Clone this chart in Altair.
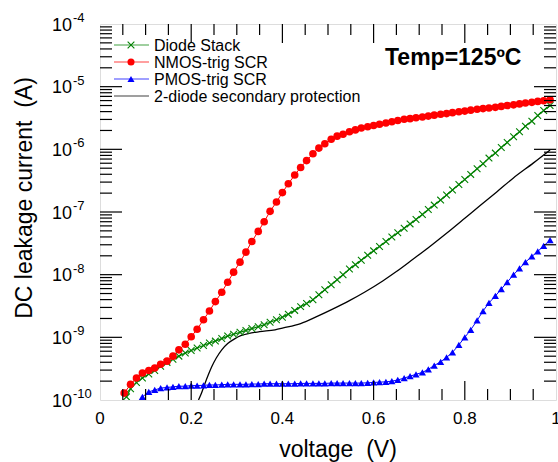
import altair as alt
import pandas as pd

# ---------------- data ----------------
# voltage sample points (V) shared by the marker series
voltage_steps = [
    0.053, 0.067, 0.080, 0.093, 0.107, 0.120, 0.133, 0.147, 0.160, 0.173,
    0.187, 0.200, 0.213, 0.227, 0.240, 0.253, 0.267, 0.280, 0.293, 0.307,
    0.320, 0.333, 0.347, 0.360, 0.373, 0.387, 0.400, 0.413, 0.427, 0.440,
    0.453, 0.467, 0.480, 0.493, 0.507, 0.520, 0.533, 0.547, 0.560, 0.573,
    0.587, 0.600, 0.613, 0.627, 0.640, 0.653, 0.667, 0.680, 0.693, 0.707,
    0.720, 0.733, 0.747, 0.760, 0.773, 0.787, 0.800, 0.813, 0.827, 0.840,
    0.853, 0.867, 0.880, 0.893, 0.907, 0.920, 0.933, 0.947, 0.960, 0.973,
    0.987,
]

# log10 of current (A)
nmos_voltage = voltage_steps
nmos_log = [
    -9.89, -9.75, -9.65, -9.57, -9.53, -9.49, -9.43, -9.38, -9.30, -9.20,
    -9.11, -8.99, -8.87, -8.72, -8.58, -8.43, -8.28, -8.12, -7.96, -7.80,
    -7.64, -7.47, -7.31, -7.155, -6.99, -6.84, -6.69, -6.55, -6.41, -6.29,
    -6.18, -6.07, -5.98, -5.91, -5.84, -5.79, -5.76, -5.72, -5.69, -5.66,
    -5.64, -5.62, -5.60, -5.58, -5.56, -5.54, -5.52, -5.51, -5.495, -5.485,
    -5.47, -5.455, -5.44, -5.43, -5.415, -5.40, -5.39, -5.375, -5.36, -5.35,
    -5.34, -5.33, -5.315, -5.30, -5.29, -5.275, -5.26, -5.25, -5.235, -5.225,
    -5.21,
]

diode_voltage = [0.058] + voltage_steps[1:]
diode_log = [
    -9.95, -9.82, -9.72, -9.65, -9.585, -9.53, -9.46, -9.40, -9.35, -9.30,
    -9.25, -9.21, -9.17, -9.13, -9.09, -9.06, -9.02, -8.98, -8.95, -8.92,
    -8.89, -8.86, -8.83, -8.80, -8.76, -8.72, -8.68, -8.63, -8.57, -8.51,
    -8.46, -8.40, -8.32, -8.24, -8.16, -8.08, -8.00, -7.91, -7.84, -7.77,
    -7.69, -7.62, -7.55, -7.47, -7.40, -7.33, -7.26, -7.19, -7.12, -7.04,
    -6.96, -6.89, -6.81, -6.73, -6.65, -6.56, -6.48, -6.40, -6.31, -6.23,
    -6.14, -6.06, -5.97, -5.89, -5.80, -5.72, -5.63, -5.55, -5.46, -5.38,
    -5.30,
]

pmos_voltage = voltage_steps[3:]
pmos_log = [
    -9.95, -9.87, -9.84, -9.81, -9.80, -9.79, -9.78, -9.78, -9.77, -9.77,
    -9.765, -9.76, -9.76, -9.755, -9.75, -9.75, -9.75, -9.75, -9.745, -9.745,
    -9.74, -9.74, -9.74, -9.74, -9.74, -9.74, -9.735, -9.735, -9.735, -9.735,
    -9.735, -9.73, -9.73, -9.73, -9.73, -9.73, -9.73, -9.725, -9.72, -9.715,
    -9.71, -9.70, -9.68, -9.65, -9.62, -9.59, -9.56, -9.51, -9.45, -9.39,
    -9.32, -9.24, -9.12, -9.00, -8.88, -8.73, -8.58, -8.45, -8.34, -8.23,
    -8.12, -8.00, -7.90, -7.80, -7.71, -7.63, -7.54, -7.45,
]

twodiode_voltage = [
    0.216, 0.222, 0.230, 0.238, 0.245, 0.255, 0.267, 0.280, 0.296, 0.310,
    0.325, 0.350, 0.384, 0.402, 0.440, 0.475, 0.510, 0.548, 0.580, 0.620,
    0.650, 0.687, 0.720, 0.760, 0.800, 0.833, 0.870, 0.906, 0.950, 0.987,
]
twodiode_log = [
    -10.0, -9.90, -9.74, -9.59, -9.47, -9.33, -9.20, -9.10, -9.02, -8.97,
    -8.94, -8.91, -8.88, -8.85, -8.78, -8.67, -8.55, -8.41, -8.28, -8.10,
    -7.95, -7.75, -7.57, -7.34, -7.10, -6.90, -6.68, -6.46, -6.22, -6.01,
]

series_names = ["Diode Stack", "NMOS-trig SCR", "PMOS-trig SCR",
                "2-diode secondary protection"]
series_colors = ["#008000", "#ff0000", "#0000ff", "#000000"]

x_label_values = [0, 0.2, 0.4, 0.6, 0.8, 1]
x_label_text = ["0", "0.2", "0.4", "0.6", "0.8", "1"]
y_label_exps = [-10, -9, -8, -7, -6, -5, -4]

x_major_ticks = [0.2, 0.4, 0.6, 0.8]
x_minor_ticks = [0.05, 0.1, 0.15, 0.25, 0.3, 0.35, 0.45, 0.5, 0.55,
                 0.65, 0.7, 0.75, 0.85, 0.9, 0.95]
y_major_ticks = [1e-9, 1e-8, 1e-7, 1e-6, 1e-5]
y_minor_ticks = [d * 10.0 ** k for k in range(-10, -4) for d in range(2, 10)]

# ---------------- layout / style ----------------
W, H = 456, 376
FONT = "Liberation Sans"
NB = "\u00a0"
xs = alt.Scale(domain=[0, 1], nice=False, zero=False)
ys = alt.Scale(type="log", domain=[1e-10, 1e-4], nice=False)
XCROSS = "M-1,-1L1,1M-1,1L1,-1"


def frame(v, logs):
    return pd.DataFrame({"voltage": v, "current": [10.0 ** e for e in logs]})


def enc(ch):
    return ch.encode(
        x=alt.X("voltage:Q", scale=xs, axis=None),
        y=alt.Y("current:Q", scale=ys, axis=None),
    )


layers = []

# data series
d2 = frame(twodiode_voltage, twodiode_log)
layers.append(enc(alt.Chart(d2).mark_line(color="#000000", strokeWidth=1.3, clip=True,
                                          interpolate="monotone")))

dd = frame(diode_voltage, diode_log)
layers.append(enc(alt.Chart(dd).mark_line(color="#008000", strokeWidth=1.2, clip=True)))
layers.append(enc(alt.Chart(dd).mark_point(shape=XCROSS, filled=False, size=45,
                                           strokeWidth=1.1, color="#008000", opacity=1, clip=True)))

dp = frame(pmos_voltage, pmos_log)
layers.append(enc(alt.Chart(dp).mark_line(color="#0000ff", strokeWidth=1, clip=True)))
layers.append(enc(alt.Chart(dp).mark_point(shape="triangle-up", filled=True, size=52,
                                           color="#0000ff", opacity=1, clip=True)))

dn = frame(nmos_voltage, nmos_log)
layers.append(enc(alt.Chart(dn).mark_line(color="#ff0000", strokeWidth=1, clip=True)))
layers.append(enc(alt.Chart(dn).mark_point(shape="circle", filled=True, size=58,
                                           color="#ff0000", opacity=1, clip=True)))

# inward ticks on all four sides
TICK = "#000000"


def xticks(vals, length):
    df = pd.DataFrame({"t": vals})
    b = alt.Chart(df).mark_rule(color=TICK, strokeWidth=1.2).encode(
        x=alt.X("t:Q", scale=xs, axis=None), y=alt.value(H), y2=alt.value(H - length))
    t = alt.Chart(df).mark_rule(color=TICK, strokeWidth=1.2).encode(
        x=alt.X("t:Q", scale=xs, axis=None), y=alt.value(0), y2=alt.value(length))
    return [b, t]


def yticks(vals, length):
    df = pd.DataFrame({"t": vals})
    l = alt.Chart(df).mark_rule(color=TICK, strokeWidth=1.2).encode(
        y=alt.Y("t:Q", scale=ys, axis=None), x=alt.value(0), x2=alt.value(length))
    r = alt.Chart(df).mark_rule(color=TICK, strokeWidth=1.2).encode(
        y=alt.Y("t:Q", scale=ys, axis=None), x=alt.value(W), x2=alt.value(W - length))
    return [l, r]


layers += xticks(x_major_ticks, 19) + xticks(x_minor_ticks, 11)
layers += yticks(y_major_ticks, 22) + yticks(y_minor_ticks, 12)

# x tick labels
xl = pd.DataFrame({"v": x_label_values, "lab": x_label_text})
layers.append(alt.Chart(xl).mark_text(font=FONT, fontSize=17, baseline="alphabetic",
                                      align="center", color="black").encode(
    x=alt.X("v:Q", scale=xs, axis=None), y=alt.value(H + 24), text="lab:N"))

# y tick labels as 10 with raised exponent
yl = pd.DataFrame({"v": [10.0 ** e for e in y_label_exps],
                   "base": ["10"] * len(y_label_exps),
                   "exp": [str(e) for e in y_label_exps]})
layers.append(alt.Chart(yl).mark_text(font=FONT, fontSize=18, baseline="alphabetic",
                                      align="right", dy=6.5, color="black").encode(
    y=alt.Y("v:Q", scale=ys, axis=None), x=alt.value(-28), text="base:N"))
layers.append(alt.Chart(yl).mark_text(font=FONT, fontSize=13, baseline="alphabetic",
                                      align="left", dy=-2, color="black").encode(
    y=alt.Y("v:Q", scale=ys, axis=None), x=alt.value(-27), text="exp:N"))


# axis titles and annotation
def label(text, x, y, **kw):
    return alt.Chart(pd.DataFrame({"s": [text]})).mark_text(font=FONT, color="black", **kw).encode(
        x=alt.value(x), y=alt.value(y), text="s:N")


layers.append(label("voltage" + NB + NB + "(V)", 238, 433, fontSize=23, align="center",
                    baseline="alphabetic"))
layers.append(label("DC leakage current" + NB + NB + "(A)", -68, 174, fontSize=23, align="center",
                    baseline="alphabetic", angle=270))
layers.append(label("Temp=125ºC", 285, 41, fontSize=23, fontWeight="bold", align="left",
                    baseline="alphabetic"))

# manual legend (line + marker + text)
legend_rows = [21, 38, 55, 72]
legend_shapes = [XCROSS, "circle", "triangle-up", None]
for name, col, ly, shp in zip(series_names, series_colors, legend_rows, legend_shapes):
    one = pd.DataFrame({"s": [name]})
    layers.append(alt.Chart(one).mark_rule(color=col, strokeWidth=1.2, opacity=0.75).encode(
        x=alt.value(14), x2=alt.value(49), y=alt.value(ly)))
    if shp is not None:
        filled = shp != XCROSS
        layers.append(alt.Chart(one).mark_point(shape=shp, filled=filled, size=50 if filled else 45,
                                                strokeWidth=1.1, color=col, opacity=1).encode(
            x=alt.value(31), y=alt.value(ly)))
    layers.append(alt.Chart(one).mark_text(font=FONT, fontSize=16, align="left", baseline="middle",
                                           color="black", dy=1).encode(
        x=alt.value(54), y=alt.value(ly), text="s:N"))

chart = alt.layer(*layers).properties(
    width=W, height=H,
    autosize=alt.AutoSizeParams(type="none"),
    padding={"left": 100, "top": 24, "right": 2, "bottom": 62},
).configure_view(stroke="#111111", strokeWidth=1.6).configure(background="white")

chart.save("out.html", embed_options={"renderer": "svg", "actions": False})
